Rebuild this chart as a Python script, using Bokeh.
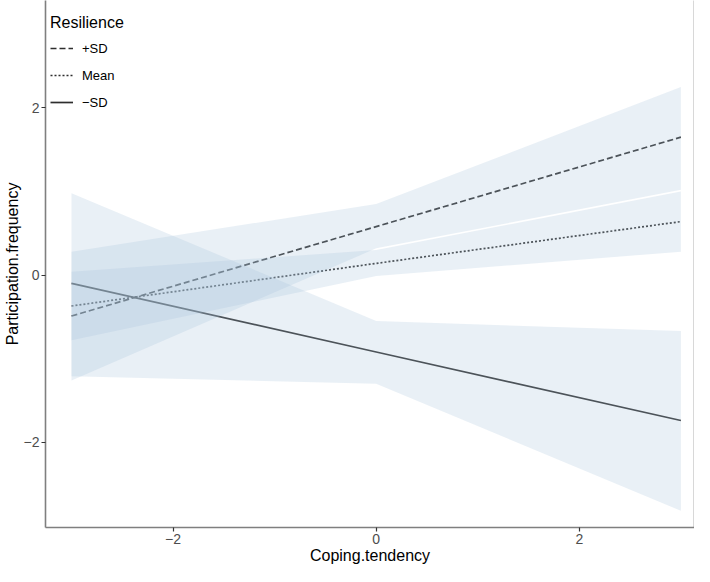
from bokeh.plotting import figure
from bokeh.models import ColumnDataSource, Legend, LegendItem, FixedTicker, LinearAxis, Range1d
from bokeh.embed import file_html
from bokeh.resources import INLINE

# ---- data ----
coping = [-3, 0, 3]
plus_fit = [-0.49, 0.58, 1.65]
plus_lo = [-1.26, 0.32, 1.02]
plus_hi = [0.28, 0.85, 2.25]
mean_fit = [-0.37, 0.14, 0.64]
mean_lo = [-0.78, -0.01, 0.28]
mean_hi = [0.04, 0.30, 1.00]
minus_fit = [-0.10, -0.92, -1.74]
minus_lo = [-1.21, -1.30, -2.82]
minus_hi = [0.98, -0.55, -0.67]
groups = ["+SD", "Mean", "\u2212SD"]
x_ticks = [-2, 0, 2]
y_ticks = [-2, 0, 2]
tick_labels = {-2: "\u22122", 0: "0", 2: "2"}

FONT = "Liberation Sans"
LINE_COL = "#2e2e2e"
BAND_COL = "#a9c3dd"
AXIS_COL = "#7f7f7f"

p = figure(width=694, height=566, output_backend="svg", toolbar_location=None,
           x_range=Range1d(-3.256, 3.134), y_range=Range1d(-3.02, 3.285),
           min_border_top=0, min_border_right=0, min_border_left=0, min_border_bottom=0)
p.background_fill_color = "white"
p.border_fill_color = "white"
p.outline_line_color = None
p.xgrid.visible = False
p.ygrid.visible = False

series = [
    (plus_fit, plus_lo, plus_hi, "6 3"),
    (mean_fit, mean_lo, mean_hi, "2 2"),
    (minus_fit, minus_lo, minus_hi, "solid"),
]

line_renderers = []
for fit, lo, hi, dash in series:
    src = ColumnDataSource(dict(x=coping, y=fit))
    r = p.line("x", "y", source=src, line_color=LINE_COL, line_width=1.7, line_dash=dash)
    line_renderers.append(r)

for fit, lo, hi, dash in series:
    src = ColumnDataSource(dict(x=coping, lo=lo, hi=hi))
    p.varea(x="x", y1="lo", y2="hi", source=src, fill_color=BAND_COL, fill_alpha=0.25)

for ax, ticks in ((p.xaxis[0], x_ticks), (p.yaxis[0], y_ticks)):
    ax.ticker = FixedTicker(ticks=ticks)
    ax.major_label_overrides = tick_labels
    ax.minor_tick_line_color = None
    ax.major_tick_in = 0
    ax.major_tick_out = 4
    ax.major_tick_line_color = "#333333"
    ax.major_tick_line_width = 1.2
    ax.axis_line_color = AXIS_COL
    ax.axis_line_width = 1.6
    ax.major_label_text_font = FONT
    ax.major_label_text_font_size = "14px"
    ax.major_label_text_color = "#4d4d4d"
    ax.major_label_standoff = 2
    ax.axis_label_text_font = FONT
    ax.axis_label_text_font_size = "16px"
    ax.axis_label_text_font_style = "normal"
    ax.axis_label_text_color = "black"
    ax.axis_label_standoff = 0

p.xaxis.axis_label = "Coping.tendency"
p.yaxis.axis_label = "Participation.frequency"

right = LinearAxis(ticker=FixedTicker(ticks=[]), axis_line_color=AXIS_COL, axis_line_width=1.6,
                   major_tick_line_color=None, minor_tick_line_color=None,
                   major_label_text_font_size="0px")
p.add_layout(right, "right")

items = [LegendItem(label=g, renderers=[r]) for g, r in zip(groups, line_renderers)]
legend = Legend(items=items, location=(5, 415), title="Resilience")
legend.title_text_font = FONT
legend.title_text_font_size = "16px"
legend.title_text_font_style = "normal"
legend.title_text_color = "black"
legend.title_standoff = 6
legend.label_text_font = FONT
legend.label_text_font_size = "13px"
legend.label_text_color = "black"
legend.glyph_width = 23
legend.label_standoff = 9
legend.label_height = 20
legend.spacing = 7
legend.padding = 6
legend.margin = 0
legend.border_line_color = None
legend.background_fill_alpha = 0
p.add_layout(legend, "center")

open("out.html", "w").write(file_html(p, INLINE))
